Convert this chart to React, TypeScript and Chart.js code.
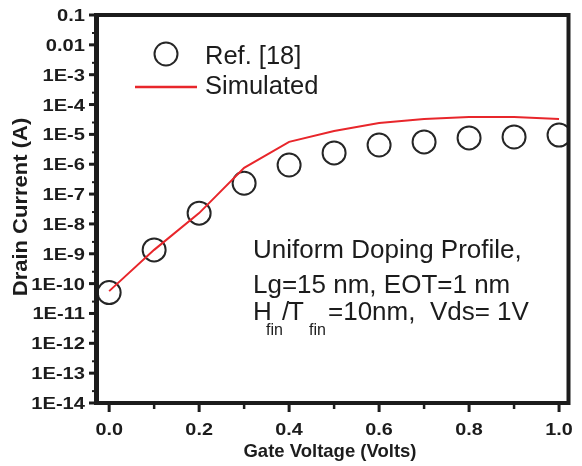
import { useEffect, useRef } from "react";
import { Chart, registerables } from "chart.js";

Chart.register(...registerables);

// Gate sweep (V) shared by both curves
const gateVoltage = [0, 0.1, 0.2, 0.3, 0.4, 0.5, 0.6, 0.7, 0.8, 0.9, 1.0];
// Reference measurement, drain current (A)
const refCurrent = [5.0e-11, 1.35e-9, 2.3e-8, 2.3e-7, 9.4e-7, 2.4e-6, 4.4e-6, 5.6e-6, 7.6e-6, 8.2e-6, 9.5e-6];
// Simulated drain current (A)
const simCurrent = [5.6e-11, 1.35e-9, 2.3e-8, 7.6e-7, 5.6e-6, 1.3e-5, 2.4e-5, 3.3e-5, 3.8e-5, 3.8e-5, 3.3e-5];

const xMajorTicks = [0, 0.2, 0.4, 0.6, 0.8, 1.0];
const xMinorTicks = [0.1, 0.3, 0.5, 0.7, 0.9];
const xTickLabels = ["0.0", "0.2", "0.4", "0.6", "0.8", "1.0"];
const yMajorTicks = [1e-1, 1e-2, 1e-3, 1e-4, 1e-5, 1e-6, 1e-7, 1e-8, 1e-9, 1e-10, 1e-11, 1e-12, 1e-13, 1e-14];
const yTickLabels = ["0.1", "0.01", "1E-3", "1E-4", "1E-5", "1E-6", "1E-7", "1E-8", "1E-9", "1E-10", "1E-11", "1E-12", "1E-13", "1E-14"];

const FONT = '"Liberation Sans", Arial, sans-serif';
const INK = "#1c1c1c";
const RED = "#e8262b";

function stretchedText(
  ctx: CanvasRenderingContext2D,
  text: string,
  x: number,
  y: number,
  sx: number,
  align: CanvasTextAlign
) {
  ctx.save();
  ctx.translate(x, y);
  ctx.scale(sx, 1);
  ctx.textAlign = align;
  ctx.textBaseline = "alphabetic";
  ctx.fillText(text, 0, 0);
  ctx.restore();
}

function seg(ctx: CanvasRenderingContext2D, x1: number, y1: number, x2: number, y2: number) {
  ctx.beginPath();
  ctx.moveTo(x1, y1);
  ctx.lineTo(x2, y2);
  ctx.stroke();
}

// Frame, tick marks, tick labels, axis titles, legend and annotation
const decorPlugin = {
  id: "decor",
  afterDraw(chart: any) {
    const { ctx, chartArea: a } = chart;
    const xs = chart.scales.x;
    const ys = chart.scales.y;
    ctx.save();
    ctx.fillStyle = INK;
    ctx.strokeStyle = INK;
    ctx.lineCap = "butt";

    // box frame
    ctx.lineWidth = 4;
    ctx.strokeRect(a.left, a.top, a.right - a.left, a.bottom - a.top);
    ctx.lineWidth = 5;
    seg(ctx, a.left - 0.5, a.top - 2, a.left - 0.5, a.bottom + 2);

    // x ticks
    ctx.lineWidth = 3;
    xMajorTicks.forEach((v) => {
      const px = xs.getPixelForValue(v);
      seg(ctx, px, a.bottom + 2, px, a.bottom + 9);
    });
    ctx.lineWidth = 2.5;
    xMinorTicks.forEach((v) => {
      const px = xs.getPixelForValue(v);
      seg(ctx, px, a.bottom + 2, px, a.bottom + 6);
    });

    // y ticks
    ctx.lineWidth = 3;
    yMajorTicks.forEach((v) => {
      const py = ys.getPixelForValue(v);
      seg(ctx, a.left - 2, py, a.left - 8, py);
    });
    ctx.lineWidth = 2;
    yMajorTicks.slice(1).forEach((v) => {
      const py = ys.getPixelForValue(v * 2.5);
      seg(ctx, a.left - 2, py, a.left - 5, py);
    });

    // tick labels
    ctx.font = `bold 16.5px ${FONT}`;
    xMajorTicks.forEach((v, i) => {
      stretchedText(ctx, xTickLabels[i], xs.getPixelForValue(v), 435, 1.2, "center");
    });
    yMajorTicks.forEach((v, i) => {
      stretchedText(ctx, yTickLabels[i], 85, ys.getPixelForValue(v) + 6, 1.22, "right");
    });

    // axis titles
    ctx.font = `bold 18.5px ${FONT}`;
    stretchedText(ctx, "Gate Voltage (Volts)", 330, 457, 1.0, "center");
    ctx.save();
    ctx.translate(27, 207);
    ctx.rotate(-Math.PI / 2);
    ctx.font = `bold 20px ${FONT}`;
    stretchedText(ctx, "Drain Current (A)", 0, 0, 1.1, "center");
    ctx.restore();

    // legend
    ctx.lineWidth = 2;
    ctx.strokeStyle = "#262626";
    ctx.beginPath();
    ctx.arc(166, 54, 11.5, 0, Math.PI * 2);
    ctx.stroke();
    ctx.strokeStyle = RED;
    ctx.lineWidth = 2.5;
    seg(ctx, 135, 87, 197, 87);
    ctx.font = `25.5px ${FONT}`;
    ctx.fillStyle = INK;
    stretchedText(ctx, "Ref. [18]", 205, 64, 1.0, "left");
    stretchedText(ctx, "Simulated", 205, 94, 1.0, "left");

    // annotation
    ctx.font = `26px ${FONT}`;
    stretchedText(ctx, "Uniform Doping Profile,", 253, 258, 1.0, "left");
    stretchedText(ctx, "Lg=15 nm, EOT=1 nm", 253, 293, 1.0, "left");
    stretchedText(ctx, "H", 253, 320, 1.0, "left");
    stretchedText(ctx, "/", 282, 320, 1.0, "left");
    stretchedText(ctx, "T", 288, 320, 1.0, "left");
    stretchedText(ctx, "=10nm,  Vds= 1V", 328, 320, 1.0, "left");
    ctx.font = `16px ${FONT}`;
    stretchedText(ctx, "fin", 266, 335, 1.0, "left");
    stretchedText(ctx, "fin", 309, 335, 1.0, "left");

    ctx.restore();
  },
};

export default function App() {
  const canvasRef = useRef<HTMLCanvasElement | null>(null);

  useEffect(() => {
    const canvas = canvasRef.current;
    if (!canvas) return;
    const chart = new Chart(canvas, {
      type: "line",
      data: {
        datasets: [
          {
            label: "Simulated",
            data: gateVoltage.map((v, i) => ({ x: v, y: simCurrent[i] })),
            borderColor: RED,
            borderWidth: 2,
            pointRadius: 0,
            tension: 0,
            fill: false,
            order: 0,
          },
          {
            label: "Ref. [18]",
            data: gateVoltage.map((v, i) => ({ x: v, y: refCurrent[i] })),
            showLine: false,
            pointRadius: 11.5,
            pointBorderWidth: 2,
            pointBorderColor: "#262626",
            pointBackgroundColor: "rgba(0,0,0,0)",
            order: 1,
          },
        ],
      },
      options: {
        animation: false,
        responsive: true,
        maintainAspectRatio: false,
        events: [],
        layout: { padding: { top: 15, right: 4, bottom: 0, left: 0 } },
        plugins: { legend: { display: false }, tooltip: { enabled: false } },
        scales: {
          x: {
            type: "linear",
            min: -0.027,
            max: 1.021,
            grid: { display: false },
            border: { display: false },
            ticks: { display: false },
            afterFit: (s: any) => {
              s.height = 63;
            },
          },
          y: {
            type: "logarithmic",
            min: 1e-14,
            max: 0.1,
            grid: { display: false },
            border: { display: false },
            ticks: { display: false },
            afterFit: (s: any) => {
              s.width = 97;
            },
          },
        },
      },
      plugins: [decorPlugin],
    } as any);
    return () => chart.destroy();
  }, []);

  return (
    <div style={{ position: "fixed", left: 0, top: 0, width: 582, height: 466, background: "#fff" }}>
      <canvas ref={canvasRef} />
    </div>
  );
}
